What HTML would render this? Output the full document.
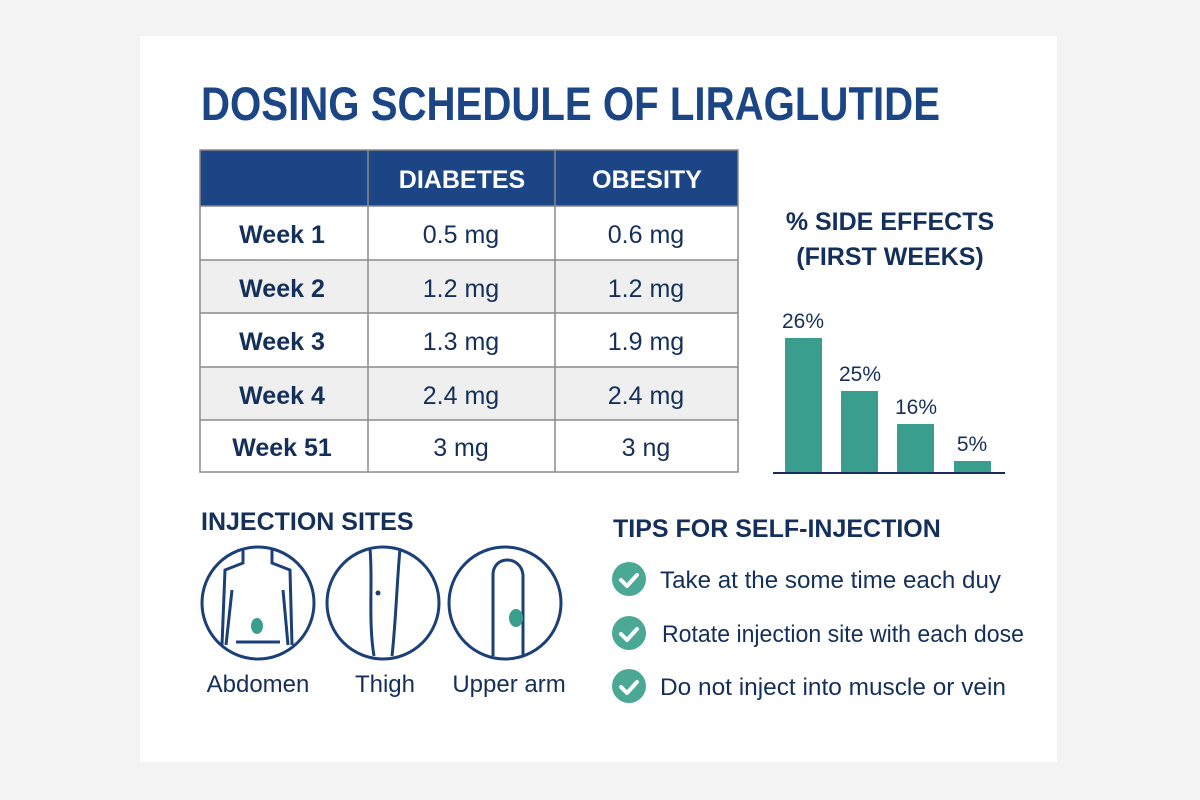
<!DOCTYPE html>
<html><head><style>
html,body{margin:0;padding:0;background:#f3f3f3;}
svg{display:block;}
text{font-family:"Liberation Sans",sans-serif;}
</style></head><body>
<svg width="1200" height="800" viewBox="0 0 1200 800">
<rect width="1200" height="800" fill="#f3f3f3"/>
<rect x="140" y="36" width="917" height="726" fill="#ffffff"/>
<text x="201" y="120" font-size="47" font-weight="bold" fill="#1b4584" textLength="739" lengthAdjust="spacingAndGlyphs">DOSING SCHEDULE OF LIRAGLUTIDE</text>
<!-- table -->
<rect x="200" y="150" width="538" height="56" fill="#1b4584"/>
<rect x="200" y="260" width="538" height="53" fill="#efefef"/>
<rect x="200" y="367" width="538" height="53" fill="#efefef"/>
<g stroke="#8a8a8a" stroke-width="1.5" fill="none">
<rect x="200" y="150" width="538" height="322"/>
<line x1="200" y1="206" x2="738" y2="206"/>
<line x1="200" y1="260" x2="738" y2="260"/>
<line x1="200" y1="313" x2="738" y2="313"/>
<line x1="200" y1="367" x2="738" y2="367"/>
<line x1="200" y1="420" x2="738" y2="420"/>
<line x1="368" y1="150" x2="368" y2="472"/>
<line x1="555" y1="150" x2="555" y2="472"/>
</g>
<g font-size="25" font-weight="bold" fill="#ffffff" text-anchor="middle">
<text x="462" y="188">DIABETES</text>
<text x="647" y="188">OBESITY</text>
</g>
<g font-size="25" fill="#14305a" text-anchor="middle">
<text x="282" y="243" font-weight="bold">Week 1</text>
<text x="282" y="297" font-weight="bold">Week 2</text>
<text x="282" y="350" font-weight="bold">Week 3</text>
<text x="282" y="404" font-weight="bold">Week 4</text>
<text x="282" y="456" font-weight="bold">Week 51</text>
<text x="461" y="243">0.5 mg</text>
<text x="461" y="297">1.2 mg</text>
<text x="461" y="350">1.3 mg</text>
<text x="461" y="404">2.4 mg</text>
<text x="461" y="456">3 mg</text>
<text x="646" y="243">0.6 mg</text>
<text x="646" y="297">1.2 mg</text>
<text x="646" y="350">1.9 mg</text>
<text x="646" y="404">2.4 mg</text>
<text x="646" y="456">3 ng</text>
</g>
<!-- side effects -->
<g font-size="25" font-weight="bold" fill="#14305a" text-anchor="middle">
<text x="890" y="230">% SIDE EFFECTS</text>
<text x="890" y="265">(FIRST WEEKS)</text>
</g>
<g fill="#3a9e8e">
<rect x="785" y="338" width="37" height="135"/>
<rect x="841" y="391" width="37" height="82"/>
<rect x="897" y="424" width="37" height="49"/>
<rect x="954" y="461" width="37" height="12"/>
</g>
<line x1="773" y1="473" x2="1005" y2="473" stroke="#14305a" stroke-width="2"/>
<g font-size="21" fill="#14305a" text-anchor="middle">
<text x="803" y="328">26%</text>
<text x="860" y="381">25%</text>
<text x="916" y="414">16%</text>
<text x="972" y="451">5%</text>
</g>
<!-- injection sites -->
<text x="201" y="530" font-size="25" font-weight="bold" fill="#14305a">INJECTION SITES</text>
<g stroke="#1b3f78" stroke-width="3" fill="none">
<circle cx="258" cy="603" r="56"/>
<circle cx="383" cy="603" r="56"/>
<circle cx="505" cy="603" r="56"/>
<path d="M243 550 L243 563 L225 570 L222 645 M272 550 L272 563 L290 570 L292 645"/>
<path d="M232 590 L226 645 M283 590 L288 645 M236 642 L280 642"/>
<path d="M370 549 C373 580 368 620 374 656 M400 549 C397 580 396 620 392 656"/>
<path d="M493 656 L493 575 C493 555 521 555 523 575 L523 656"/>
</g>
<circle cx="378" cy="593" r="2.5" fill="#1b3f78"/>
<ellipse cx="257" cy="626" rx="6" ry="8" fill="#3a9e8e"/>
<ellipse cx="516" cy="618" rx="7" ry="9" fill="#3a9e8e"/>
<g font-size="24" fill="#14305a" text-anchor="middle">
<text x="258" y="692">Abdomen</text>
<text x="385" y="692">Thigh</text>
<text x="509" y="692">Upper arm</text>
</g>
<!-- tips -->
<text x="613" y="537" font-size="25" font-weight="bold" fill="#14305a">TIPS FOR SELF-INJECTION</text>
<g fill="#4aa895">
<circle cx="629" cy="579" r="17"/>
<circle cx="629" cy="633" r="17"/>
<circle cx="629" cy="686" r="17"/>
</g>
<g stroke="#fff" stroke-width="4" fill="none" stroke-linecap="round" stroke-linejoin="round">
<path d="M621 580 L627 586 L637 575"/>
<path d="M621 634 L627 640 L637 629"/>
<path d="M621 687 L627 693 L637 682"/>
</g>
<g font-size="24" fill="#14305a">
<text x="660" y="588" textLength="341" lengthAdjust="spacingAndGlyphs">Take at the some time each duy</text>
<text x="662" y="642" textLength="362" lengthAdjust="spacingAndGlyphs">Rotate injection site with each dose</text>
<text x="660" y="695" textLength="346" lengthAdjust="spacingAndGlyphs">Do not inject into muscle or vein</text>
</g>
</svg>
</body></html>
